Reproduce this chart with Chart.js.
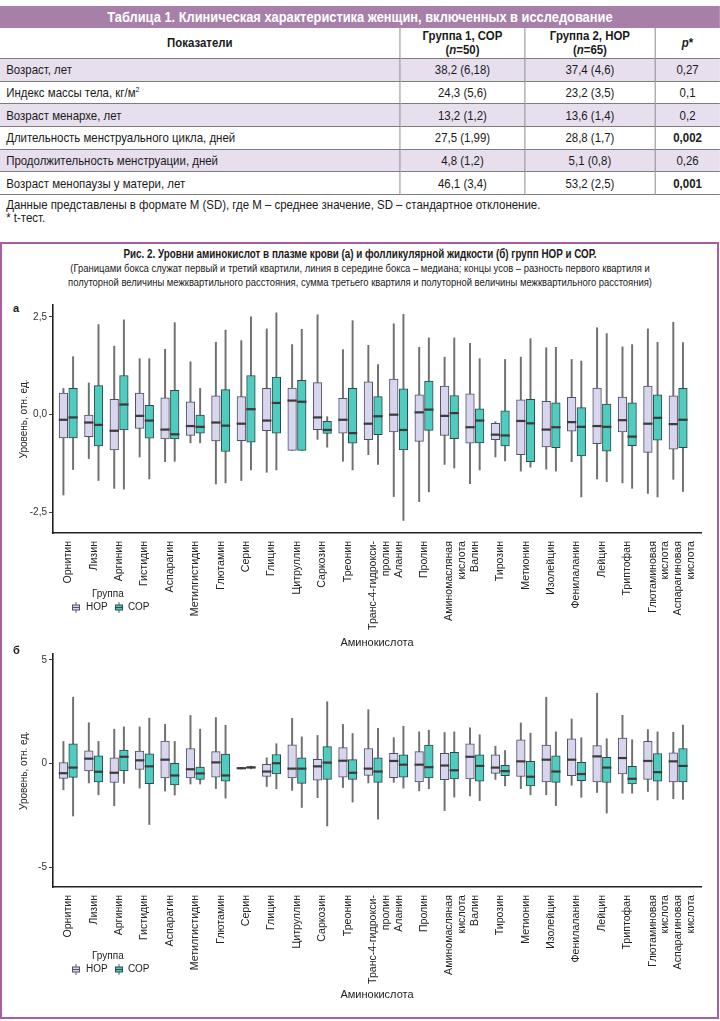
<!DOCTYPE html>
<html lang="ru">
<head>
<meta charset="utf-8">
<script src="https://cdn.jsdelivr.net/npm/chart.js@4.4.1/dist/chart.umd.min.js"></script>
<style>
body{margin:0;background:#fff;}
#page{position:relative;width:720px;height:1021px;overflow:hidden;color:#1a1a1a;
  font-family:"Liberation Sans Narrow","Arial Narrow","Liberation Sans",sans-serif;}
#top{position:absolute;left:0;top:0;width:818px;height:230px;transform:scaleX(0.88);transform-origin:0 0;}
#band{position:absolute;left:0;top:6px;width:818px;height:22px;line-height:22px;background:#a77fa8;
  color:#fff;font-weight:bold;font-size:14.6px;text-align:center;}
#tbl{position:absolute;left:0;top:28px;width:818px;border-collapse:collapse;table-layout:fixed;font-size:13px;}
#tbl td,#tbl th{border-bottom:1px solid #7d7d7d;padding:0 7px;}
#tbl td+td,#tbl th+th{border-left:1px solid #7d7d7d;text-align:center;}
#tbl th{height:30px;font-weight:bold;line-height:14px;text-align:center;}
#tbl td{height:21.7px;}
#tbl tr.sh td{background:#e7dfee;}
.note{position:absolute;left:7px;font-size:13px;line-height:14px;}
#frame{position:absolute;left:0;top:242px;width:719px;height:777px;border:2.5px solid #a85ea2;box-sizing:border-box;}
#figtitle{position:absolute;left:-90px;top:247px;width:900px;text-align:center;font-size:11.5px;line-height:14px;
  transform:scaleX(0.82);transform-origin:450px 0;}
.plab{position:absolute;left:13px;font-family:"Liberation Sans",sans-serif;font-weight:bold;font-size:11px;}
canvas{position:absolute;left:0;}
.lg{position:absolute;font-family:"Liberation Sans",sans-serif;font-size:10px;line-height:12px;color:#222;}
.lg svg{position:absolute;top:1px;}
</style>
</head>
<body>
<div id="page">
<div id="top">
<div id="band">Таблица 1. Клиническая характеристика женщин, включенных в исследование</div>
<table id="tbl">
<colgroup><col style="width:454.5px"><col style="width:142px"><col style="width:147.7px"><col style="width:73.8px"></colgroup>
<tr><th>Показатели</th><th>Группа 1, СОР<br>(<i>n</i>=50)</th><th>Группа 2, НОР<br>(<i>n</i>=65)</th><th><i>p</i>*</th></tr>
<tr class="sh"><td>Возраст, лет</td><td>38,2 (6,18)</td><td>37,4 (4,6)</td><td>0,27</td></tr>
<tr><td>Индекс массы тела, кг/м<sup style="font-size:8px">2</sup></td><td>24,3 (5,6)</td><td>23,2 (3,5)</td><td>0,1</td></tr>
<tr class="sh"><td>Возраст менархе, лет</td><td>13,2 (1,2)</td><td>13,6 (1,4)</td><td>0,2</td></tr>
<tr><td>Длительность менструального цикла, дней</td><td>27,5 (1,99)</td><td>28,8 (1,7)</td><td><b>0,002</b></td></tr>
<tr class="sh"><td>Продолжительность менструации, дней</td><td>4,8 (1,2)</td><td>5,1 (0,8)</td><td>0,26</td></tr>
<tr><td>Возраст менопаузы у матери, лет</td><td>46,1 (3,4)</td><td>53,2 (2,5)</td><td><b>0,001</b></td></tr>
</table>
<div class="note" style="top:198px">Данные представлены в формате M (SD), где M – среднее значение, SD – стандартное отклонение.</div>
<div class="note" style="top:211px">* t-тест.</div>
</div>

<div id="frame"></div>
<div id="figtitle"><b style="font-size:12px">Рис. 2. Уровни аминокислот в плазме крови (а) и фолликулярной жидкости (б) групп НОР и СОР.</b><br>
(Границами бокса служат первый и третий квартили, линия в середине бокса – медиана; концы усов – разность первого квартиля и<br>
полуторной величины межквартильного расстояния, сумма третьего квартиля и полуторной величины межквартильного расстояния)</div>

<div class="plab" style="top:302px">а</div>
<canvas id="chartA" width="720" height="356" style="top:296px"></canvas>
<div class="lg" style="left:92px;top:588px">Группа</div>
<div class="lg" style="left:72px;top:601px;width:90px;height:12px">
  <svg width="8" height="11" style="left:0"><line x1="4" y1="0" x2="4" y2="11" stroke="#666"/><rect x="0.5" y="3" width="7" height="5" fill="#d8d5ee" stroke="#505060"/><line x1="0.5" y1="5.5" x2="7.5" y2="5.5" stroke="#505060"/></svg>
  <span style="position:absolute;left:14px">НОР</span>
  <svg width="8" height="11" style="left:43px"><line x1="4" y1="0" x2="4" y2="11" stroke="#666"/><rect x="0.5" y="3" width="7" height="5" fill="#4fcbc0" stroke="#2c4a47"/><line x1="0.5" y1="5.5" x2="7.5" y2="5.5" stroke="#2c4a47"/></svg>
  <span style="position:absolute;left:56px">СОР</span>
</div>

<div class="plab" style="top:644px">б</div>
<canvas id="chartB" width="720" height="358" style="top:646px"></canvas>
<div class="lg" style="left:92px;top:950px">Группа</div>
<div class="lg" style="left:72px;top:963px;width:90px;height:12px">
  <svg width="8" height="11" style="left:0"><line x1="4" y1="0" x2="4" y2="11" stroke="#666"/><rect x="0.5" y="3" width="7" height="5" fill="#d8d5ee" stroke="#505060"/><line x1="0.5" y1="5.5" x2="7.5" y2="5.5" stroke="#505060"/></svg>
  <span style="position:absolute;left:14px">НОР</span>
  <svg width="8" height="11" style="left:43px"><line x1="4" y1="0" x2="4" y2="11" stroke="#666"/><rect x="0.5" y="3" width="7" height="5" fill="#4fcbc0" stroke="#2c4a47"/><line x1="0.5" y1="5.5" x2="7.5" y2="5.5" stroke="#2c4a47"/></svg>
  <span style="position:absolute;left:56px">СОР</span>
</div>
</div>

<script>
// аминокислоты (ось X)
const aminoLabels = ['Орнитин','Лизин','Аргинин','Гистидин','Аспарагин','Метилгистидин','Глютамин','Серин','Глицин',
  'Цитруллин','Саркозин','Треонин',['Транс-4-гидрокси-','пролин'],'Аланин','Пролин',['Аминомасляная','кислота'],
  'Валин','Тирозин','Метионин','Изолейцин','Фенилаланин','Лейцин','Триптофан',['Глютаминовая','кислота'],['Аспарагиновая','кислота']];

// (а) плазма крови, НОР
const plasmaNorMin = [-2.05,-1.12,-1.88,-1.08,-1.20,-0.72,-1.77,-1.68,-1.47,-0.91,-0.63,-1.19,-1.02,-2.09,-2.22,-1.27,-1.76,-1.08,-1.44,-1.39,-1.20,-1.64,-1.74,-2.01,-1.65];
const plasmaNorQ1  = [-0.59,-0.56,-0.90,-0.35,-0.62,-0.53,-0.67,-0.66,-0.41,-0.91,-0.38,-0.47,-0.64,-0.44,-0.68,-0.53,-0.73,-0.64,-1.02,-0.82,-0.42,-0.74,-0.44,-0.96,-0.88];
const plasmaNorMed = [-0.13,-0.20,-0.41,-0.03,-0.38,-0.29,-0.20,-0.23,-0.15,0.36,-0.07,-0.13,-0.23,0.00,0.06,-0.03,-0.32,-0.51,-0.16,-0.38,-0.19,-0.29,-0.14,-0.23,-0.24];
const plasmaNorQ3  = [0.55,0.00,0.39,0.55,0.43,0.33,0.48,0.46,0.67,0.68,0.82,0.42,0.84,0.91,0.51,0.73,0.53,-0.22,0.38,0.34,0.44,0.68,0.45,0.73,0.48];
const plasmaNorMax = [0.67,0.81,1.75,1.43,1.67,1.35,1.85,1.89,2.19,1.79,2.55,1.66,1.77,2.32,1.72,1.47,1.82,-0.18,1.47,1.71,1.41,2.22,1.73,2.19,2.36];
// (а) плазма крови, СОР
const plasmaSorMin = [-1.40,-1.68,-1.90,-1.64,-1.19,-0.72,-1.74,-1.41,-1.41,-0.91,-0.83,-1.41,-1.27,-2.70,-1.97,-1.36,-1.41,-1.18,-1.34,-1.44,-2.10,-1.71,-1.88,-2.10,-1.96];
const plasmaSorQ1  = [-0.59,-0.80,-0.39,-0.60,-0.62,-0.47,-0.94,-0.70,-0.47,-0.91,-0.48,-0.73,-0.51,-0.90,-0.40,-0.61,-0.72,-0.80,-1.20,-0.84,-1.05,-0.93,-0.79,-0.65,-0.84];
const plasmaSorMed = [-0.07,-0.26,0.26,-0.15,-0.50,-0.31,-0.28,0.14,0.30,0.33,-0.39,-0.47,-0.04,-0.39,0.13,0.04,-0.15,-0.53,-0.22,-0.32,-0.31,-0.31,-0.56,-0.08,-0.13];
const plasmaSorQ3  = [0.67,0.74,1.00,0.24,0.62,0.00,0.64,1.00,0.96,0.88,-0.17,0.67,0.46,0.66,0.86,0.49,0.15,0.10,0.39,0.30,0.18,0.27,0.30,0.51,0.67];
const plasmaSorMax = [1.48,2.30,2.42,1.43,2.35,0.67,2.16,2.50,2.60,2.18,-0.05,2.40,1.28,2.56,1.96,1.96,1.43,1.41,1.94,1.72,1.37,2.07,1.79,1.85,1.84];

// (б) фолликулярная жидкость, НОР
const follNorMin = [-1.26,-0.93,-2.03,-1.18,-1.32,-0.98,-1.20,-0.26,-1.10,-1.29,-1.64,-1.15,-0.93,-0.90,-1.31,-2.26,-1.56,-0.76,-1.20,-1.50,-1.04,-1.39,-1.42,-1.34,-1.69];
const follNorQ1  = [-0.71,-0.35,-0.91,-0.28,-0.69,-0.69,-0.65,-0.24,-0.62,-0.69,-0.79,-0.65,-0.57,-0.68,-0.88,-0.77,-0.73,-0.47,-0.62,-0.88,-0.58,-0.88,-0.49,-0.76,-0.88];
const follNorMed = [-0.46,0.24,-0.44,0.16,0.19,-0.27,0.06,-0.22,-0.38,-0.24,-0.13,0.14,-0.24,0.13,-0.05,-0.09,0.33,-0.19,0.11,0.19,0.19,0.35,0.27,0.13,0.11];
const follNorQ3  = [0.05,0.62,0.28,0.60,1.09,0.73,0.58,-0.20,-0.03,0.91,0.21,0.77,0.73,0.50,0.58,0.50,0.96,0.43,1.15,0.90,1.20,0.87,1.23,1.07,0.52];
const follNorMax = [1.07,1.97,1.66,1.77,1.89,2.32,2.22,-0.18,0.28,2.18,1.36,1.89,2.60,1.25,1.53,1.50,1.72,0.84,1.96,3.20,2.15,3.39,2.33,1.64,1.51];
// (б) фолликулярная жидкость, СОР
const follSorMin = [-2.52,-1.50,-0.95,-2.93,-1.51,-0.98,-1.66,-0.25,-1.21,-2.11,-3.00,-1.85,-2.67,-1.18,-1.21,-1.61,-1.78,-1.07,-1.50,-2.02,-1.62,-2.38,-1.42,-1.75,-1.72];
const follSorQ1  = [-0.66,-0.88,-0.35,-0.96,-1.03,-0.76,-0.84,-0.22,-0.49,-0.95,-0.76,-0.76,-0.90,-0.65,-0.69,-0.73,-0.84,-0.58,-1.07,-0.90,-0.82,-0.91,-0.98,-0.84,-0.88];
const follSorMed = [-0.19,-0.39,0.33,-0.13,-0.57,-0.47,-0.57,-0.18,0.02,-0.24,0.05,-0.44,-0.38,-0.05,-0.17,-0.32,-0.11,-0.36,-0.63,-0.38,-0.50,-0.19,-0.73,-0.41,-0.11];
const follSorQ3  = [0.96,0.38,0.65,0.47,0.02,-0.16,0.46,-0.15,0.44,0.28,0.82,0.19,0.28,0.43,0.90,0.54,0.43,-0.08,0.11,0.38,0.06,0.30,-0.13,0.49,0.73];
const follSorMax = [3.20,1.07,1.77,2.19,1.07,1.66,1.85,-0.12,0.96,1.29,2.98,1.45,1.70,1.80,1.61,1.53,1.39,0.63,1.47,1.53,1.25,1.20,1.15,1.53,1.86];

// деления оси Y
const plasmaTicks = [-2.5, 0, 2.5];
const plasmaTickLabels = ['-2,5', '0,0', '2,5'];
const follTicks = [-5, 0, 5];
const follTickLabels = ['-5', '0', '5'];

Chart.defaults.font.family = 'Liberation Sans';
Chart.defaults.color = '#222';

// один "ящик с усами" = усы (bar) + ящик (floating bar) + медиана (тонкий floating bar)
// medHalf - полутолщина линии медианы в единицах оси Y
function boxSets(mn, q1, md, q3, mx, shift, fill, edge, name, medHalf) {
	const xs = mn.map((v, i) => i + 1 + shift);
	return [
		{type: 'bar', label: name + ' медиана', order: 0, grouped: false,
		 data: md.map((v, i) => ({x: xs[i], y: [v - medHalf, v + medHalf]})),
		 backgroundColor: '#3b3b3b', borderColor: '#3b3b3b', borderWidth: 0, barThickness: 8.6},
		{type: 'bar', label: name, order: 1, grouped: false,
		 data: q1.map((v, i) => ({x: xs[i], y: [v, q3[i]]})),
		 backgroundColor: fill, borderColor: edge, borderWidth: 1, borderSkipped: false, barThickness: 8.6},
		{type: 'bar', label: name + ' усы', order: 2, grouped: false,
		 data: mn.map((v, i) => ({x: xs[i], y: [v, mx[i]]})),
		 backgroundColor: '#707070', borderColor: '#707070', borderWidth: 0, barThickness: 1.3}
	];
}

function grafico(id, sets, yMin, yMax, ticks, tickLabels, xHeight, padTop) {
	return new Chart(document.getElementById(id), {
		type: 'bar',
		data: {datasets: sets},
		options: {
			responsive: false,
			animation: false,
			events: [],
			layout: {padding: {left: 0, right: 19, top: padTop, bottom: 0}},
			plugins: {legend: {display: false}, tooltip: {enabled: false}, colors: {enabled: false}},
			scales: {
				x: {
					type: 'linear', min: 0.4, max: 25.9, offset: false,
					afterFit: s => { s.height = xHeight; },
					afterBuildTicks: s => { s.ticks = aminoLabels.map((l, i) => ({value: i + 1})); },
					ticks: {autoSkip: false, maxRotation: 90, minRotation: 90, padding: 8,
						font: {size: 10.6}, color: '#222',
						callback: (v, i) => aminoLabels[i]},
					grid: {display: false, drawTicks: false},
					border: {display: true, color: '#222', width: 1.6},
					title: {display: true, text: 'Аминокислота', font: {size: 11}, color: '#222',
						padding: {top: 0, bottom: 2}}
				},
				y: {
					type: 'linear', min: yMin, max: yMax, beginAtZero: false,
					afterFit: s => { s.width = 53; },
					afterBuildTicks: s => { s.ticks = ticks.map(v => ({value: v})); },
					ticks: {font: {size: 10}, color: '#333', padding: 2,
						callback: (v, i) => tickLabels[i]},
					grid: {display: true, drawOnChartArea: false, drawTicks: true, tickLength: 4, color: '#444'},
					border: {display: true, color: '#222', width: 1.6},
					title: {display: true, text: 'Уровень, отн. ед.', font: {size: 10}, color: '#222',
						padding: {top: 18, bottom: 0}}
				}
			}
		}
	});
}

const shiftNor = -0.19, shiftSor = 0.19;

grafico('chartA',
	boxSets(plasmaNorMin, plasmaNorQ1, plasmaNorMed, plasmaNorQ3, plasmaNorMax, shiftNor, '#d8d5ee', '#505060', 'НОР', 0.02)
	.concat(boxSets(plasmaSorMin, plasmaSorQ1, plasmaSorMed, plasmaSorQ3, plasmaSorMax, shiftSor, '#4fcbc0', '#2c4a47', 'СОР', 0.02)),
	-3.02, 2.80, plasmaTicks, plasmaTickLabels, 119, 9);

grafico('chartB',
	boxSets(follNorMin, follNorQ1, follNorMed, follNorQ3, follNorMax, shiftNor, '#d8d5ee', '#505060', 'НОР', 0.037)
	.concat(boxSets(follSorMin, follSorQ1, follSorMed, follSorQ3, follSorMax, shiftSor, '#4fcbc0', '#2c4a47', 'СОР', 0.037)),
	-5.94, 5.28, follTicks, follTickLabels, 117, 4);
</script>
</body>
</html>
